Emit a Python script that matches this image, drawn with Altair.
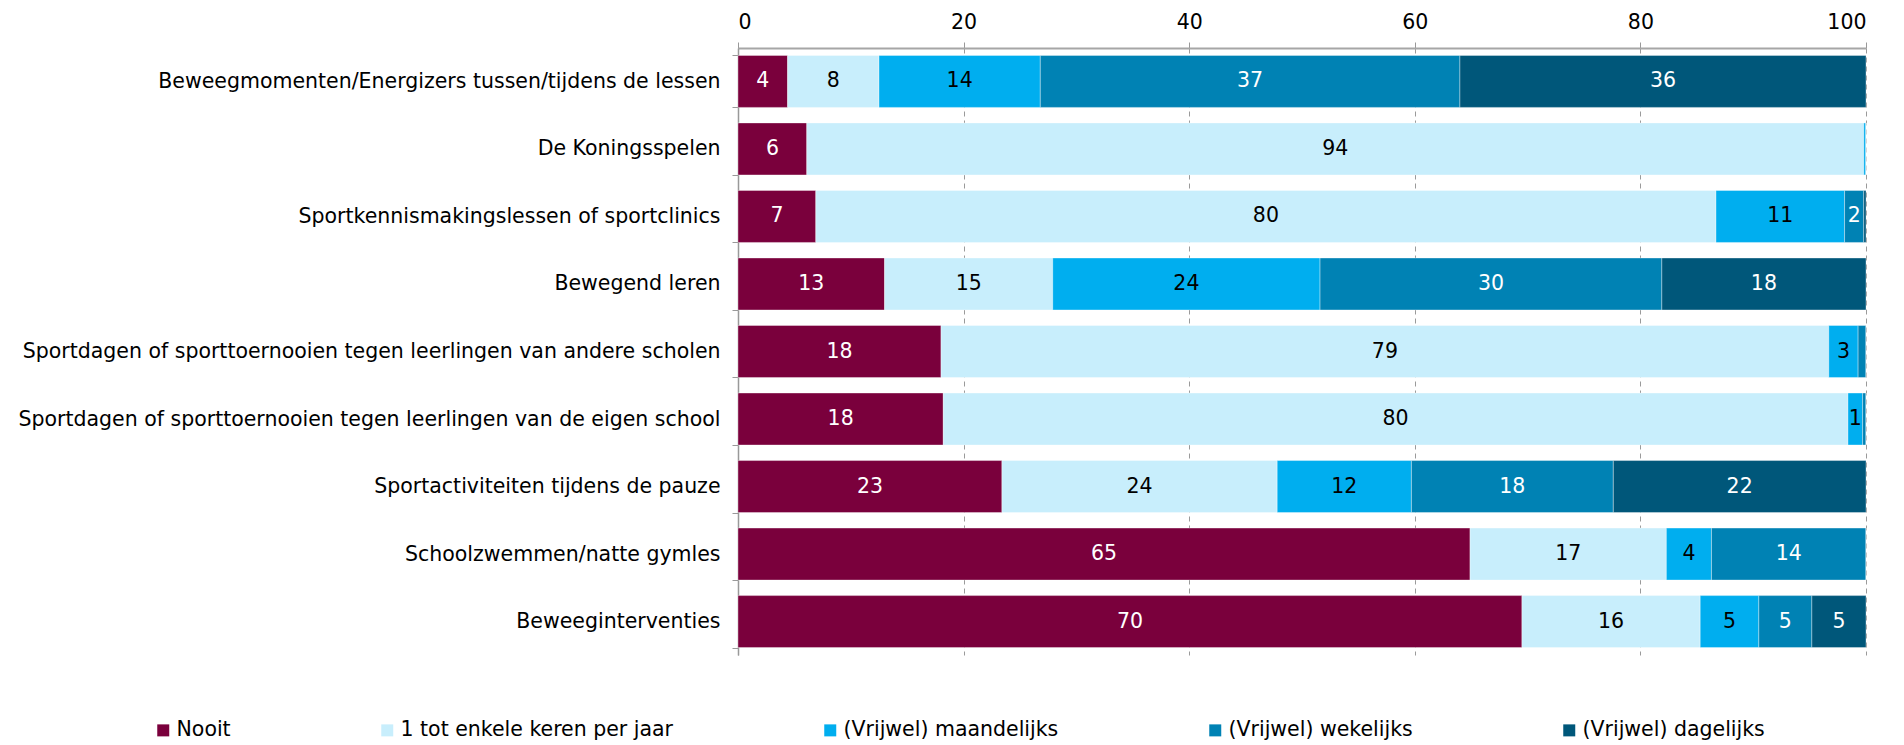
import altair as alt
import pandas as pd

activities = [
    "Beweegmomenten/Energizers tussen/tijdens de lessen",
    "De Koningsspelen",
    "Sportkennismakingslessen of sportclinics",
    "Bewegend leren",
    "Sportdagen of sporttoernooien tegen leerlingen van andere scholen",
    "Sportdagen of sporttoernooien tegen leerlingen van de eigen school",
    "Sportactiviteiten tijdens de pauze",
    "Schoolzwemmen/natte gymles",
    "Beweeginterventies",
]
categories = [
    "Nooit",
    "1 tot enkele keren per jaar",
    "(Vrijwel) maandelijks",
    "(Vrijwel) wekelijks",
    "(Vrijwel) dagelijks",
]
nooit = [4.4, 6.1, 6.9, 13.0, 18.0, 18.2, 23.4, 64.9, 69.5]
jaar = [8.1, 93.7, 79.8, 14.9, 78.7, 80.2, 24.4, 17.4, 15.8]
maand = [14.3, 0.2, 11.4, 23.7, 2.6, 1.3, 11.9, 4.0, 5.2]
week = [37.2, 0.0, 1.7, 30.3, 0.7, 0.3, 17.9, 13.7, 4.7]
dag = [36.0, 0.0, 0.2, 18.1, 0.0, 0.0, 22.4, 0.0, 4.8]
colors = ["#7a003c", "#c8eefc", "#00aeef", "#0082b4", "#00577a"]
x_ticks = [0, 20, 40, 60, 80, 100]

series = [nooit, jaar, maand, week, dag]
rows = []
for ci, (cat, vals) in enumerate(zip(categories, series)):
    for act, v in zip(activities, vals):
        rows.append({"act": act, "cat": cat, "ord": ci, "value": v})
df = pd.DataFrame(rows)

FONT = "DejaVu Sans"
FS = 20.5

base = alt.Chart(df).transform_stack(
    stack="value", groupby=["act"], as_=["x0", "x1"], sort=[alt.SortField("ord")]
).transform_calculate(mid="(datum.x0 + datum.x1) / 2")

y_enc = alt.Y(
    "act:N",
    sort=activities,
    title=None,
    scale=alt.Scale(paddingInner=0.23, paddingOuter=0.11),
    axis=alt.Axis(
        labelFont=FONT, labelFontSize=FS, labelColor="#000000", labelLimit=900,
        labelPadding=12, tickBand="extent", tickSize=6, tickColor="#999999",
        domainColor="#999999", domainWidth=1.5,
    ),
)

bars = base.mark_bar(stroke="#ffffff", strokeWidth=0.6, strokeOpacity=0.6).encode(
    x=alt.X(
        "x0:Q",
        scale=alt.Scale(domain=[0, 100], nice=False),
        title=None,
        axis=alt.Axis(
            orient="top", values=x_ticks, labelFont=FONT, labelFontSize=FS,
            labelColor="#000000", labelPadding=10, tickSize=6, tickColor="#999999",
            domainColor="#a6a6a6", domainWidth=2, grid=True, gridDash=[5, 4],
            gridColor="#9a9a9a", gridWidth=1,
        ),
    ),
    x2="x1:Q",
    y=y_enc,
    color=alt.Color(
        "cat:N",
        scale=alt.Scale(domain=categories, range=colors),
        legend=alt.Legend(
            title=None, orient="none", direction="horizontal",
            legendX=-585, legendY=672, labelFont=FONT, labelFontSize=FS,
            labelColor="#000000", labelLimit=600, columnPadding=146, labelOffset=3,
            symbolType="square", symbolSize=144, symbolStrokeWidth=0,
        ),
    ),
    order=alt.Order("ord:Q"),
)

labels = base.transform_filter("datum.value >= 1").transform_calculate(
    lab="format(datum.value, '.0f')"
).mark_text(font=FONT, fontSize=FS, baseline="middle", align="center").encode(
    x=alt.X("mid:Q", scale=alt.Scale(domain=[0, 100], nice=False)),
    y=alt.Y("act:N", sort=activities),
    text="lab:N",
    color=alt.condition(
        "indexof(['Nooit', '(Vrijwel) wekelijks', '(Vrijwel) dagelijks'], datum.cat) >= 0",
        alt.value("#ffffff"),
        alt.value("#000000"),
    ),
)

chart = alt.layer(bars, labels).properties(
    width=1128,
    height=607,
    autosize=alt.AutoSizeParams(type="none"),
    padding={"left": 730, "top": 40, "right": 30, "bottom": 88},
).configure_view(stroke=None)

chart.save("out.html", embed_options={"renderer": "svg", "actions": False})
